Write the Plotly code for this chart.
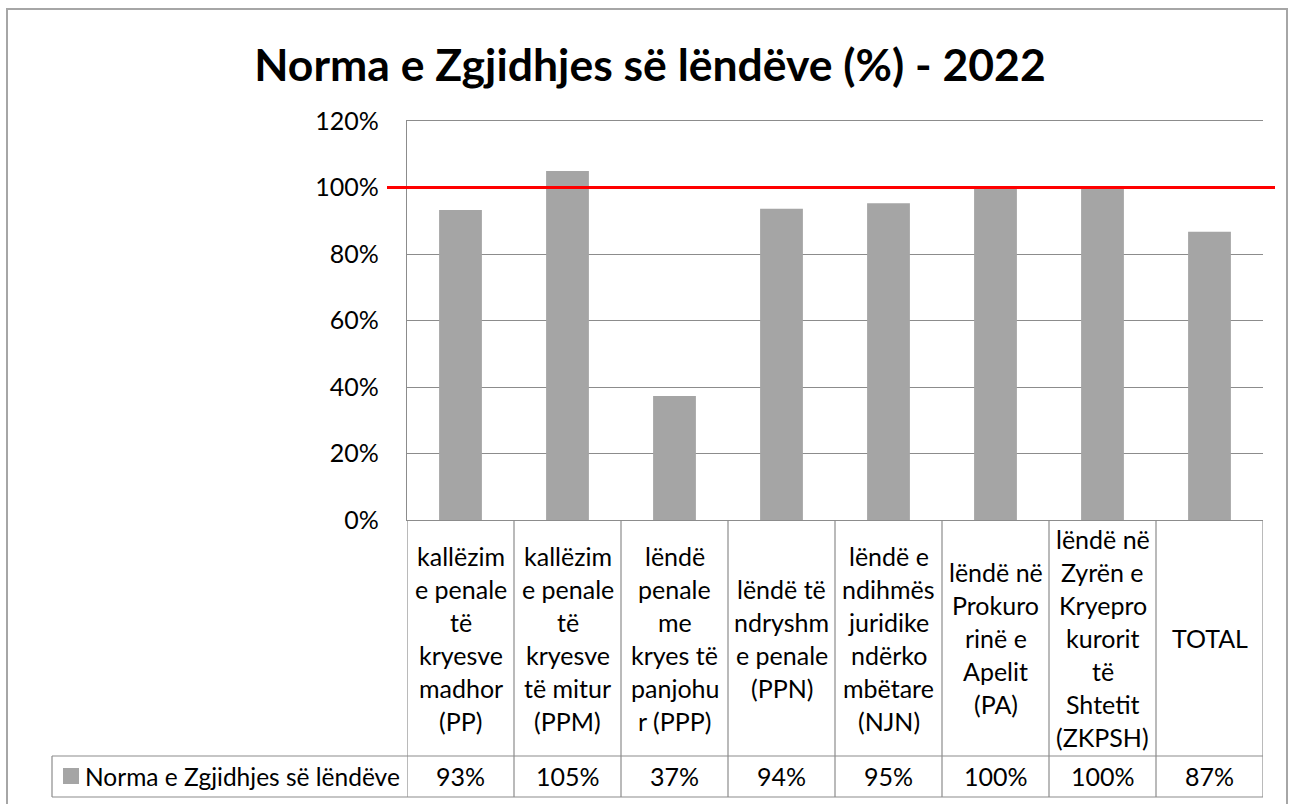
import plotly.graph_objects as go

# ---- data ----
categories = [
    "kallëzim\ne penale\ntë\nkryesve\nmadhor\n(PP)",
    "kallëzim\ne penale\ntë\nkryesve\ntë mitur\n(PPM)",
    "lëndë\npenale\nme\nkryes të\npanjohu\nr (PPP)",
    "lëndë të\nndryshm\ne penale\n(PPN)",
    "lëndë e\nndihmës\njuridike\nndërko\nmbëtare\n(NJN)",
    "lëndë në\nProkuro\nrinë e\nApelit\n(PA)",
    "lëndë në\nZyrën e\nKryepro\nkurorit\ntë\nShtetit\n(ZKPSH)",
    "TOTAL",
]
values = [0.932, 1.05, 0.373, 0.936, 0.953, 1.0, 1.0, 0.867]
value_labels = ["93%", "105%", "37%", "94%", "95%", "100%", "100%", "87%"]
series_name = "Norma e Zgjidhjes së lëndëve"
title_text = "Norma e Zgjidhjes së lëndëve (%) - 2022"
target_value = 1.0
y_ticks = [0, 0.2, 0.4, 0.6, 0.8, 1.0, 1.2]

# ---- geometry (pixels) ----
W, H = 1291, 804
PL, PR, PT, PB = 407, 1263, 121, 520
FONT = "Lato"
BAR_COLOR = "#a5a5a5"
LINE_COLOR = "#8c8c8c"


def px_x(p):
    return (p - PL) / (PR - PL)


def px_y(p):
    return (PB - p) / (PB - PT)


x_idx = list(range(len(categories)))

fig = go.Figure()
fig.add_trace(go.Bar(
    x=x_idx, y=values, width=0.4, marker=dict(color=BAR_COLOR, line=dict(width=0)),
    name=series_name, showlegend=False, hoverinfo="skip",
))

shapes = []
annotations = []

# outer chart border
shapes.append(dict(type="rect", xref="paper", yref="paper",
                   x0=px_x(7), x1=px_x(1287), y0=px_y(812), y1=px_y(9),
                   line=dict(color="#a6a6a6", width=2), fillcolor="rgba(0,0,0,0)", layer="below"))

# target line
shapes.append(dict(type="line", xref="paper", yref="y",
                   x0=px_x(387), x1=px_x(1275), y0=target_value, y1=target_value,
                   line=dict(color="#ff0000", width=3)))

# data table
ROW1_BOT, ROW2_BOT, LEG_LEFT = 756, 797, 52
for i in range(len(categories) + 1):
    shapes.append(dict(type="line", xref="x", yref="paper",
                       x0=i - 0.5, x1=i - 0.5, y0=px_y(PB), y1=px_y(ROW2_BOT),
                       line=dict(color=LINE_COLOR, width=1.2)))
shapes.append(dict(type="line", xref="paper", yref="paper",
                   x0=px_x(LEG_LEFT), x1=px_x(LEG_LEFT), y0=px_y(ROW1_BOT), y1=px_y(ROW2_BOT),
                   line=dict(color=LINE_COLOR, width=1.2)))
for yy in (ROW1_BOT, ROW2_BOT):
    shapes.append(dict(type="line", xref="paper", yref="paper",
                       x0=px_x(LEG_LEFT), x1=px_x(PR), y0=px_y(yy), y1=px_y(yy),
                       line=dict(color=LINE_COLOR, width=1.2)))

# legend key square
shapes.append(dict(type="rect", xref="paper", yref="paper",
                   x0=px_x(63), x1=px_x(79), y0=px_y(784), y1=px_y(768),
                   fillcolor=BAR_COLOR, line=dict(width=0)))
annotations.append(dict(xref="paper", yref="paper", x=px_x(83), y=px_y(776),
                        text=series_name, showarrow=False, xanchor="left", yanchor="middle",
                        font=dict(family=FONT, size=24.5, color="#000")))

LINE_H = 33
cell_mid = (PB + ROW1_BOT) / 2
row2_mid = (ROW1_BOT + ROW2_BOT) / 2 - 1
for i, (cat, lab) in enumerate(zip(categories, value_labels)):
    lines = cat.split("\n")
    n = len(lines)
    for j, ln in enumerate(lines):
        yp = cell_mid + (j - (n - 1) / 2) * LINE_H
        annotations.append(dict(xref="x", yref="paper", x=i, y=px_y(yp), text=ln,
                                showarrow=False, xanchor="center", yanchor="middle",
                                font=dict(family=FONT, size=25, color="#000")))
    annotations.append(dict(xref="x", yref="paper", x=i, y=px_y(row2_mid), text=lab,
                            showarrow=False, xanchor="center", yanchor="middle",
                            font=dict(family=FONT, size=25, color="#000")))

fig.update_layout(
    width=W, height=H, autosize=False,
    margin=dict(l=PL, r=W - PR, t=PT, b=H - PB),
    paper_bgcolor="white", plot_bgcolor="white",
    title=dict(text="<b>" + title_text + "</b>", x=650 / W, xanchor="center",
               y=1 - 65 / H, yanchor="middle",
               font=dict(family=FONT, size=44.5, color="#000")),
    xaxis=dict(range=[-0.5, len(categories) - 0.5], showticklabels=False, showgrid=False,
               zeroline=False, showline=True, mirror=True, linecolor=LINE_COLOR,
               linewidth=1.2, ticks=""),
    yaxis=dict(range=[0, 1.2], tickvals=y_ticks, tickformat=".0%", showgrid=True,
               gridcolor=LINE_COLOR, gridwidth=1.2, zeroline=False, showline=True,
               linecolor=LINE_COLOR, linewidth=1.2, ticks="", ticklabelstandoff=22,
               tickfont=dict(family=FONT, size=25, color="#000")),
    shapes=shapes, annotations=annotations, bargap=0.6,
)

fig.write_html("out.html", config={"displayModeBar": False},
               post_script="document.body.style.margin='0px';")
